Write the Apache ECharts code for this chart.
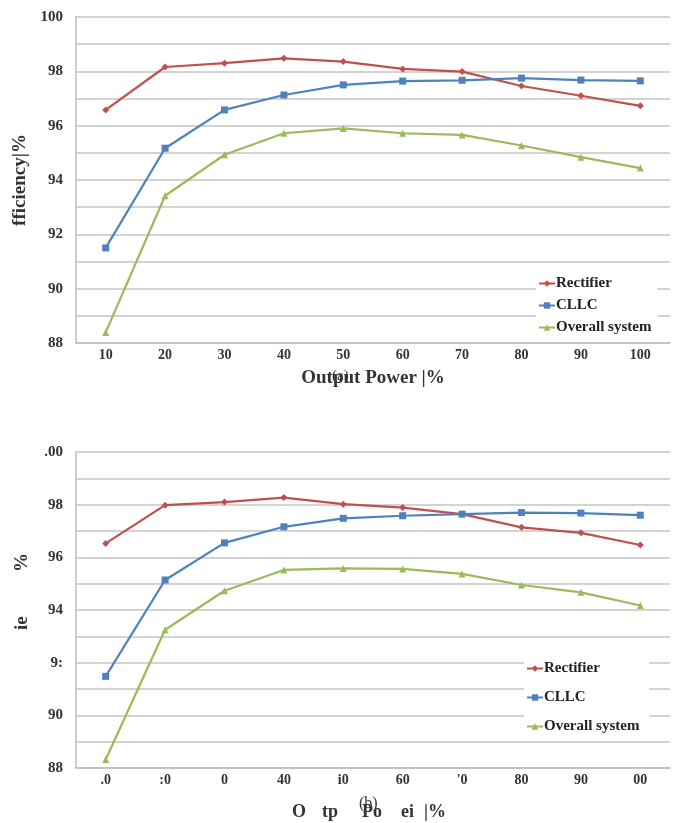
<!DOCTYPE html>
<html>
<head>
<meta charset="utf-8">
<script src="https://cdn.jsdelivr.net/npm/echarts@6/dist/echarts.min.js"></script>
<style>
  html, body { margin: 0; padding: 0; background: #fff; }
  #main { width: 678px; height: 823px; }
</style>
</head>
<body>
<div id="main"></div>
<script>
// x categories (output power %)
var powerA = ['10', '20', '30', '40', '50', '60', '70', '80', '90', '100'];
var powerB = ['.0', ':0', '0', '40', 'i0', '60', "'0", '80', '90', '00'];

// chart (a)
var rectA   = [96.58, 98.16, 98.3, 98.48, 98.36, 98.09, 97.99, 97.46, 97.1, 96.73];
var cllcA   = [91.5, 95.17, 96.58, 97.13, 97.5, 97.64, 97.67, 97.75, 97.68, 97.65];
var overA   = [88.39, 93.42, 94.93, 95.72, 95.9, 95.72, 95.66, 95.27, 94.84, 94.44];

// chart (b)
var rectB   = [96.53, 97.98, 98.1, 98.27, 98.02, 97.89, 97.64, 97.14, 96.93, 96.47];
var cllcB   = [91.48, 95.14, 96.55, 97.16, 97.48, 97.58, 97.64, 97.7, 97.68, 97.6];
var overB   = [88.32, 93.25, 94.73, 95.52, 95.58, 95.56, 95.37, 94.95, 94.67, 94.17];

var yLabelsB = { 100: '.00', 92: '9:' };

var RED = '#c0504d', BLUE = '#4f81bd', GREEN = '#9bbb59';
var FONT = 'Liberation Serif';
var gridLine = { show: true, lineStyle: { color: '#c4c4c4', width: 1.5 } };

function xAxis(idx, data) {
  return {
    type: 'category', gridIndex: idx, data: data, boundaryGap: true,
    axisTick: { show: false },
    axisLine: { lineStyle: { color: '#bdbdbd', width: 1.5 } },
    axisLabel: { color: '#333', fontFamily: FONT, fontWeight: 'bold', fontSize: 14, margin: 5 }
  };
}
function yAxis(idx, fmt) {
  return {
    type: 'value', gridIndex: idx, min: 88, max: 100, interval: 1,
    axisLine: { show: true, lineStyle: { color: '#bdbdbd', width: 1.5 } },
    axisTick: { show: false },
    splitLine: gridLine,
    axisLabel: { color: '#333', fontFamily: FONT, fontWeight: 'bold', fontSize: 15, margin: 13, formatter: fmt }
  };
}
function line(name, data, idx, color, symbol) {
  return {
    name: name, type: 'line', xAxisIndex: idx, yAxisIndex: idx, data: data,
    symbol: symbol, symbolSize: 7, showSymbol: true,
    lineStyle: { color: color, width: 2.2 },
    itemStyle: { color: color }
  };
}
function legend(pos, gap, names) {
  return {
    orient: 'vertical', left: pos[0], top: pos[1], itemGap: gap, itemWidth: 16, itemHeight: 8,
    backgroundColor: '#fff', padding: [3, 6, 3, 2],
    textStyle: { fontFamily: FONT, fontWeight: 'bold', fontSize: 15, color: '#222', padding: [0, 0, 0, -4] },
    data: names
  };
}

var chart = echarts.init(document.getElementById('main'));
var option = {
  backgroundColor: '#fff',
  animation: false,
  grid: [
    { left: 76, top: 17, width: 594, height: 326 },
    { left: 76, top: 452, width: 594, height: 316 }
  ],
  xAxis: [
    Object.assign(xAxis(0, powerA), {
      name: 'Output Power |%', nameLocation: 'middle', nameGap: 26,
      nameTextStyle: { fontFamily: FONT, fontWeight: 'bold', fontSize: 19, color: '#333' }
    }),
    xAxis(1, powerB)
  ],
  yAxis: [
    Object.assign(yAxis(0, function (v) { return v % 2 === 0 ? String(v) : ''; }), {
      name: 'fficiency|%', nameLocation: 'middle', nameGap: 44,
      nameTextStyle: { fontFamily: FONT, fontWeight: 'bold', fontSize: 19, color: '#333' }
    }),
    yAxis(1, function (v) { return v % 2 === 0 ? (yLabelsB[v] || String(v)) : ''; })
  ],
  legend: [
    legend([536, 273], 7, ['Rectifier', 'CLLC', 'Overall system']),
    legend([524, 658], 14, ['Rectifier ', 'CLLC ', 'Overall system '])
  ],
  series: [
    line('Rectifier', rectA, 0, RED, 'diamond'),
    line('CLLC', cllcA, 0, BLUE, 'rect'),
    line('Overall system', overA, 0, GREEN, 'triangle'),
    line('Rectifier ', rectB, 1, RED, 'diamond'),
    line('CLLC ', cllcB, 1, BLUE, 'rect'),
    line('Overall system ', overB, 1, GREEN, 'triangle')
  ],
  graphic: [
    { type: 'text', left: 332, top: 369, style: { text: '(a)', font: '15px "Liberation Serif"', fill: '#333' } },
    { type: 'text', left: 359, top: 796, style: { text: '(b)', font: '16px "Liberation Serif"', fill: '#333' } },
    { type: 'text', left: 292, top: 803, style: { text: 'O', font: 'bold 18px "Liberation Serif"', fill: '#333' } },
    { type: 'text', left: 322, top: 803, style: { text: 'tp', font: 'bold 18px "Liberation Serif"', fill: '#333' } },
    { type: 'text', left: 362, top: 803, style: { text: 'Po', font: 'bold 18px "Liberation Serif"', fill: '#333' } },
    { type: 'text', left: 401, top: 803, style: { text: 'ei', font: 'bold 18px "Liberation Serif"', fill: '#333' } },
    { type: 'text', left: 424, top: 803, style: { text: '|%', font: 'bold 18px "Liberation Serif"', fill: '#333' } },
    { type: 'text', x: 13, y: 572, rotation: Math.PI / 2, style: { text: '%', font: 'bold 19px "Liberation Serif"', fill: '#333' } },
    { type: 'text', x: 13, y: 630, rotation: Math.PI / 2, style: { text: 'ie', font: 'bold 19px "Liberation Serif"', fill: '#333' } }
  ]
};
chart.setOption(option);
</script>
</body>
</html>
